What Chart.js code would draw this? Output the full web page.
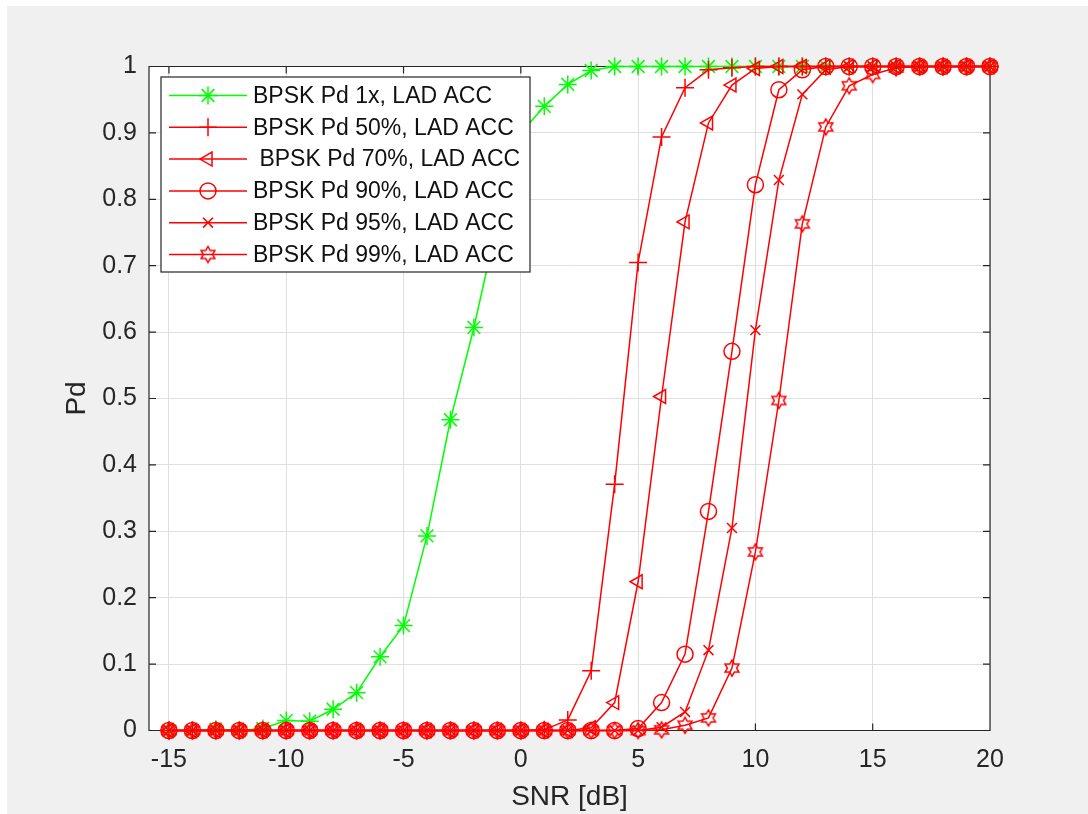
<!DOCTYPE html>
<html>
<head>
<meta charset="utf-8">
<script src="https://cdn.jsdelivr.net/npm/chart.js@4/dist/chart.umd.min.js"></script>
<style>
  html, body { margin: 0; padding: 0; background: #ffffff; }
  #c { display: block; }
</style>
</head>
<body>
<canvas id="c" width="1088" height="814"></canvas>
<script>
// ---------- data ----------
const snr = [-15,-14,-13,-12,-11,-10,-9,-8,-7,-6,-5,-4,-3,-2,-1,0,1,2,3,4,5,6,7,8,9,10,11,12,13,14,15,16,17,18,19,20];

const pd1x  = [0,0,0.002,0,0.003,0.015,0.014,0.032,0.057,0.111,0.158,0.293,0.468,0.607,0.765,0.90,0.94,0.973,0.994,1,1,1,1,1,1,1,1,1,1,1,1,1,1,1,1,1];
const pd50  = [0,0,0,0,0,0,0,0,0,0,0,0,0,0,0,0,0.001,0.016,0.09,0.371,0.705,0.894,0.968,0.995,0.998,1,1,1,1,1,1,1,1,1,1,1];
const pd70  = [0,0,0,0,0,0,0,0,0,0,0,0,0,0,0,0,0,0,0.004,0.042,0.224,0.503,0.766,0.915,0.972,0.997,1,1,1,1,1,1,1,1,1,1];
const pd90  = [0,0,0,0,0,0,0,0,0,0,0,0,0,0,0,0,0,0,0,0,0.003,0.042,0.115,0.33,0.571,0.822,0.965,0.995,1,1,1,1,1,1,1,1];
const pd95  = [0,0,0,0,0,0,0,0,0,0,0,0,0,0,0,0,0,0,0,0,0,0.005,0.028,0.121,0.305,0.603,0.829,0.958,0.995,1,1,1,1,1,1,1];
const pd99  = [0,0,0,0,0,0,0,0,0,0,0,0,0,0,0,0,0,0,0,0,0,0.001,0.008,0.019,0.094,0.269,0.497,0.763,0.909,0.971,0.988,0.998,1,1,1,1];

const seriesLabels = [
  'BPSK Pd 1x, LAD ACC',
  'BPSK Pd 50%, LAD ACC',
  ' BPSK Pd 70%, LAD ACC',
  'BPSK Pd 90%, LAD ACC',
  'BPSK Pd 95%, LAD ACC',
  'BPSK Pd 99%, LAD ACC'
];

const xTicks = [-15,-10,-5,0,5,10,15,20];
const yTicks = [0,0.1,0.2,0.3,0.4,0.5,0.6,0.7,0.8,0.9,1];
const xTitle = 'SNR [dB]';
const yTitle = 'Pd';

// ---------- styles ----------
const FONT = "'Liberation Sans', Arial, Helvetica, sans-serif";
const AX = '#262626';
const GREEN = '#00ff00';
const RED = '#ff0000';

function makeHexagram(color) {
  const s = 20, c = document.createElement('canvas');
  c.width = s; c.height = s;
  const g = c.getContext('2d');
  const R = 8, r = R / Math.sqrt(3);
  g.beginPath();
  for (let i = 0; i < 12; i++) {
    const a = -Math.PI / 2 + i * Math.PI / 6;
    const rr = (i % 2 === 0) ? R : r;
    const px = s / 2 + rr * Math.cos(a), py = s / 2 + rr * Math.sin(a);
    if (i === 0) g.moveTo(px, py); else g.lineTo(px, py);
  }
  g.closePath();
  g.strokeStyle = color;
  g.lineWidth = 1.5;
  g.stroke();
  return c;
}
const hexRed = makeHexagram(RED);

function toXY(vals) { return snr.map((x, i) => ({x: x, y: vals[i]})); }

function ds(label, vals, color, style, radius, rot, order) {
  return {
    label: label,
    data: toXY(vals),
    borderColor: color,
    backgroundColor: 'rgba(0,0,0,0)',
    borderWidth: 1.5,
    pointStyle: style,
    pointRadius: radius,
    pointHoverRadius: radius,
    pointRotation: rot,
    pointBorderColor: color,
    pointBackgroundColor: 'rgba(0,0,0,0)',
    pointBorderWidth: 1.5,
    tension: 0,
    fill: false,
    clip: false,
    order: order
  };
}

const datasets = [
  ds(seriesLabels[0], pd1x, GREEN, 'star', 9, 0, 6),
  ds(seriesLabels[1], pd50, RED, 'cross', 9, 0, 5),
  ds(seriesLabels[2], pd70, RED, 'triangle', 8, -90, 4),
  ds(seriesLabels[3], pd90, RED, 'circle', 8, 0, 3),
  ds(seriesLabels[4], pd95, RED, 'crossRot', 7, 0, 2),
  ds(seriesLabels[5], pd99, RED, hexRed, 8, 0, 1)
];

// ---------- plugins ----------
const bgPlugin = {
  id: 'bg',
  beforeDraw(chart) {
    const ctx = chart.ctx;
    ctx.save();
    ctx.fillStyle = '#ffffff';
    ctx.fillRect(0, 0, chart.width, chart.height);
    ctx.fillStyle = '#f0f0f0';
    ctx.fillRect(7, 6, chart.width - 7, chart.height - 6);
    const a = chart.chartArea;
    ctx.fillStyle = '#ffffff';
    ctx.fillRect(a.left, a.top, a.right - a.left, a.bottom - a.top);
    ctx.restore();
  }
};

const boxPlugin = {
  id: 'box',
  beforeDatasetsDraw(chart) {
    const ctx = chart.ctx, a = chart.chartArea;
    const xs = chart.scales.x, ys = chart.scales.y;
    const TL = 7;
    ctx.save();
    ctx.strokeStyle = AX;
    ctx.lineWidth = 1.2;
    ctx.beginPath();
    ctx.rect(a.left, a.top, a.right - a.left, a.bottom - a.top);
    xTicks.forEach(v => {
      const px = xs.getPixelForValue(v);
      ctx.moveTo(px, a.bottom); ctx.lineTo(px, a.bottom - TL);
      ctx.moveTo(px, a.top); ctx.lineTo(px, a.top + TL);
    });
    yTicks.forEach(v => {
      const py = ys.getPixelForValue(v);
      ctx.moveTo(a.left, py); ctx.lineTo(a.left + TL, py);
      ctx.moveTo(a.right, py); ctx.lineTo(a.right - TL, py);
    });
    ctx.stroke();
    ctx.restore();
  }
};

function drawMarker(ctx, style, rot, radius, x, y, color) {
  ctx.save();
  ctx.strokeStyle = color;
  ctx.fillStyle = 'rgba(0,0,0,0)';
  ctx.lineWidth = 1.5;
  if (Chart.helpers && Chart.helpers.drawPoint) {
    Chart.helpers.drawPoint(ctx, {pointStyle: style, rotation: rot, radius: radius, borderWidth: 1.5}, x, y);
  }
  ctx.restore();
}

const legendPlugin = {
  id: 'mlegend',
  afterDatasetsDraw(chart) {
    const ctx = chart.ctx, a = chart.chartArea;
    const left = a.left + 12, top = a.top + 10.5, w = 369, h = 195;
    const rowH = 31.8, firstRow = top + 18.5;
    ctx.save();
    ctx.fillStyle = '#ffffff';
    ctx.fillRect(left, top, w, h);
    ctx.strokeStyle = AX;
    ctx.lineWidth = 1.2;
    ctx.strokeRect(left, top, w, h);
    ctx.font = '23px ' + FONT;
    ctx.textBaseline = 'middle';
    ctx.textAlign = 'left';
    chart.data.datasets.forEach((d, i) => {
      const y = firstRow + i * rowH;
      ctx.strokeStyle = d.borderColor;
      ctx.lineWidth = 1.5;
      ctx.beginPath();
      ctx.moveTo(left + 8, y);
      ctx.lineTo(left + 86, y);
      ctx.stroke();
      drawMarker(ctx, d.pointStyle, d.pointRotation, d.pointRadius, left + 47, y, d.borderColor);
      ctx.fillStyle = '#111111';
      ctx.fillText(d.label, left + 92, y + 1);
    });
    ctx.restore();
  }
};

// ---------- chart ----------
new Chart(document.getElementById('c'), {
  type: 'line',
  data: { datasets: datasets },
  options: {
    responsive: false,
    devicePixelRatio: 1,
    animation: false,
    events: [],
    layout: { padding: { top: 66.5, right: 98, left: 0, bottom: 0 } },
    plugins: {
      legend: { display: false },
      title: { display: false },
      tooltip: { enabled: false }
    },
    scales: {
      x: {
        type: 'linear',
        min: -15.85,
        max: 20,
        afterBuildTicks(scale) { scale.ticks = xTicks.map(v => ({value: v})); },
        afterFit(scale) { scale.height = 83.5; scale.paddingLeft = 0; scale.paddingRight = 0; },
        ticks: {
          color: AX,
          font: { family: FONT, size: 25 },
          padding: 14.5,
          maxRotation: 0,
          autoSkip: false,
          callback: (v) => String(v)
        },
        grid: { color: '#dfdfdf', lineWidth: 1, drawTicks: false },
        border: { display: false },
        title: {
          display: true,
          text: xTitle,
          color: AX,
          font: { family: FONT, size: 28 },
          padding: { top: 0, bottom: 0 }
        }
      },
      y: {
        type: 'linear',
        min: 0,
        max: 1,
        afterBuildTicks(scale) { scale.ticks = yTicks.map(v => ({value: v})); },
        afterFit(scale) { scale.width = 149; },
        ticks: {
          color: AX,
          font: { family: FONT, size: 25 },
          padding: 12,
          autoSkip: false,
          callback: (v) => String(v)
        },
        grid: { color: '#dfdfdf', lineWidth: 1, drawTicks: false },
        border: { display: false },
        title: {
          display: true,
          text: yTitle,
          color: AX,
          font: { family: FONT, size: 28 },
          padding: { top: 60, bottom: 0 }
        }
      }
    }
  },
  plugins: [bgPlugin, boxPlugin, legendPlugin]
});
</script>
</body>
</html>
